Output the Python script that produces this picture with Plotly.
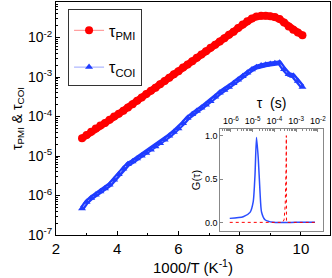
import plotly.graph_objects as go

# ---- data ----
inv_T = [2.85, 3.00, 3.15, 3.30, 3.45, 3.60, 3.75, 3.90, 4.05, 4.20, 4.35, 4.50,
         4.65, 4.80, 4.95, 5.10, 5.25, 5.40, 5.55, 5.70, 5.85, 6.00, 6.15, 6.30,
         6.45, 6.60, 6.75, 6.90, 7.05, 7.20, 7.35, 7.50, 7.65, 7.80, 7.95, 8.10,
         8.25, 8.40, 8.55, 8.70, 8.85, 9.00, 9.15, 9.30, 9.45, 9.60, 9.75, 9.90, 10.05]

tau_PMI = [2.8e-5, 3.4e-5, 4.1e-5, 5.0e-5, 5.9e-5, 6.9e-5, 8.3e-5, 1.0e-4, 1.17e-4,
           1.41e-4, 1.70e-4, 2.04e-4, 2.51e-4, 3.02e-4, 3.72e-4, 4.47e-4, 5.37e-4,
           6.61e-4, 7.94e-4, 9.55e-4, 1.17e-3, 1.41e-3, 1.74e-3, 2.09e-3, 2.51e-3,
           3.09e-3, 3.72e-3, 4.47e-3, 5.50e-3, 6.61e-3, 7.94e-3, 9.55e-3, 1.17e-2,
           1.41e-2, 1.74e-2, 2.14e-2, 2.57e-2, 3.02e-2, 3.39e-2, 3.55e-2, 3.55e-2,
           3.47e-2, 3.31e-2, 2.95e-2, 2.40e-2, 1.91e-2, 1.58e-2, 1.35e-2, 1.15e-2]

tau_COI = [4.7e-7, 6.8e-7, 8.7e-7, 1.05e-6, 1.26e-6, 1.51e-6, 1.86e-6, 2.51e-6, 3.47e-6,
           4.79e-6, 6.17e-6, 7.24e-6, 8.71e-6, 1.02e-5, 1.20e-5, 1.45e-5, 1.74e-5,
           2.09e-5, 2.57e-5, 3.24e-5, 4.07e-5, 5.01e-5, 6.76e-5, 9.12e-5, 1.15e-4,
           1.38e-4, 1.66e-4, 2.00e-4, 2.45e-4, 3.16e-4, 3.98e-4, 4.68e-4, 5.62e-4,
           6.92e-4, 8.51e-4, 1.05e-3, 1.29e-3, 1.55e-3, 1.78e-3, 1.95e-3, 2.04e-3,
           2.14e-3, 2.24e-3, 2.29e-3, 1.58e-3, 1.17e-3, 1.07e-3, 7.94e-4, 5.62e-4]

# inset: distribution G(tau)
g_tau_coi = [8.9e-7, 3.7e-6, 7.6e-6, 1.07e-5, 1.29e-5, 1.51e-5, 1.82e-5, 2.19e-5,
             2.57e-5, 3.72e-5, 8.9e-5, 1.0e-3, 7.4e-3]
g_coi = [0.046, 0.065, 0.115, 0.24, 0.55, 0.98, 0.74, 0.35, 0.12, 0.03, 0.0, 0.0, 0.0]

g_tau_pmi = [8.9e-7, 2.4e-4, 2.8e-4, 3.16e-4, 3.47e-4, 3.55e-4, 3.6e-4, 7.4e-3]
g_pmi = [0.0, 0.0, 0.03, 0.2, 0.65, 1.0, 0.0, 0.0]

main_y_ticks = [1e-7, 1e-6, 1e-5, 1e-4, 1e-3, 1e-2]
main_y_text = ["10<sup>-7</sup>", "10<sup>-6</sup>", "10<sup>-5</sup>",
               "10<sup>-4</sup>", "10<sup>-3</sup>", "10<sup>-2</sup>"]
inset_x_ticks = [1e-6, 1e-5, 1e-4, 1e-3, 1e-2]
inset_x_text = ["10<sup>-6</sup>", "10<sup>-5</sup>", "10<sup>-4</sup>",
                "10<sup>-3</sup>", "10<sup>-2</sup>"]
inset_y_ticks = [0.0, 0.5, 1.0]
inset_y_text = ["0.0", "0.5", "1.0"]

FONT = "Liberation Sans, Arial, sans-serif"
RED = "#ff0000"
BLUE = "#1f3cff"

def minor_log(lo, hi):
    vals = []
    for e in range(lo, hi):
        for m in range(2, 10):
            vals.append(m * 10 ** e)
    return vals

fig = go.Figure()

# dense bands (no legend)
fig.add_trace(go.Scatter(
    x=inv_T, y=tau_PMI, mode="lines", showlegend=False, hoverinfo="skip",
    line=dict(color=RED, width=7), xaxis="x", yaxis="y"))
fig.add_trace(go.Scatter(
    x=inv_T, y=tau_COI, mode="lines", showlegend=False, hoverinfo="skip",
    line=dict(color=BLUE, width=5), xaxis="x", yaxis="y"))

fig.add_trace(go.Scatter(
    x=inv_T, y=tau_PMI, mode="lines+markers", name="τ<sub>PMI</sub>",
    line=dict(color="#ff8a8a", width=1),
    marker=dict(symbol="circle", size=8, color=RED),
    legendgroup="a", xaxis="x", yaxis="y"))
fig.add_trace(go.Scatter(
    x=inv_T, y=tau_COI, mode="lines+markers", name="τ<sub>COI</sub>",
    line=dict(color="#9aa6ff", width=1),
    marker=dict(symbol="triangle-up", size=7, color=BLUE),
    legendgroup="b", xaxis="x", yaxis="y"))

fig.add_trace(go.Scatter(
    x=g_tau_coi, y=g_coi, mode="lines", showlegend=False,
    line=dict(color="#2a4dff", width=1.5, shape="spline", smoothing=0.6),
    xaxis="x2", yaxis="y2"))
fig.add_trace(go.Scatter(
    x=g_tau_pmi, y=g_pmi, mode="lines", showlegend=False,
    line=dict(color=RED, width=1, dash="dot"),
    xaxis="x2", yaxis="y2"))

fig.update_layout(
    width=332, height=278,
    margin=dict(l=56, r=2, t=2, b=43),
    paper_bgcolor="white", plot_bgcolor="white",
    font=dict(family=FONT, color="black", size=14),
    showlegend=True,
    legend=dict(x=0.044, y=0.972, xanchor="left", yanchor="top",
                bordercolor="#333", borderwidth=1, bgcolor="white",
                font=dict(size=16, family=FONT), tracegroupgap=13,
                itemwidth=30,
                title=dict(text=" ", font=dict(size=3))),
    xaxis=dict(
        range=[2, 10.95], dtick=2, tick0=2, automargin=False,
        showline=True, linecolor="black", linewidth=1, mirror=True,
        ticks="inside", ticklen=4, tickcolor="black",
        minor=dict(dtick=1, ticks="inside", ticklen=2, tickcolor="black"),
        showgrid=False, zeroline=False,
        tickfont=dict(size=15),
        title=dict(text="1000/T (K<sup>-1</sup>)", font=dict(size=15), standoff=4),
    ),
    yaxis=dict(
        type="log", range=[-7, -1.1], automargin=False,
        tickvals=main_y_ticks, ticktext=main_y_text,
        showline=True, linecolor="black", linewidth=1, mirror=True,
        ticks="inside", ticklen=4, tickcolor="black",
        minor=dict(tickvals=minor_log(-7, -1), ticks="inside", ticklen=2,
                   tickcolor="black"),
        showgrid=False, zeroline=False,
        tickfont=dict(size=14),
        title=dict(text="τ<sub>PMI</sub> & τ<sub>COI</sub>", font=dict(size=14),
                   standoff=2),
    ),
    xaxis2=dict(
        domain=[0.600, 0.974], anchor="y2", side="top", automargin=False,
        type="log", range=[-6.48, -1.77],
        tickvals=inset_x_ticks, ticktext=inset_x_text,
        showline=True, linecolor="#888", linewidth=1, mirror=True,
        ticks="inside", ticklen=3, tickcolor="#888",
        minor=dict(tickvals=minor_log(-7, -1), ticks="inside", ticklen=2,
                   tickcolor="#888"),
        showgrid=False, zeroline=False,
        tickfont=dict(size=9),
        title=dict(text="τ  (s)", font=dict(size=14), standoff=2),
    ),
    yaxis2=dict(
        domain=[0.017, 0.455], anchor="x2", automargin=False,
        range=[-0.10, 1.077],
        tickvals=inset_y_ticks, ticktext=inset_y_text,
        showline=True, linecolor="#888", linewidth=1, mirror=True,
        ticks="inside", ticklen=3, tickcolor="#888",
        showgrid=False, zeroline=False,
        tickfont=dict(size=9),
        title=dict(text="G(τ)", font=dict(size=11), standoff=2),
    ),
)

fig.write_html("out.html",
               config={"displayModeBar": False},
               post_script="document.body.style.margin='0px';"
                           "document.body.style.padding='0px';")
